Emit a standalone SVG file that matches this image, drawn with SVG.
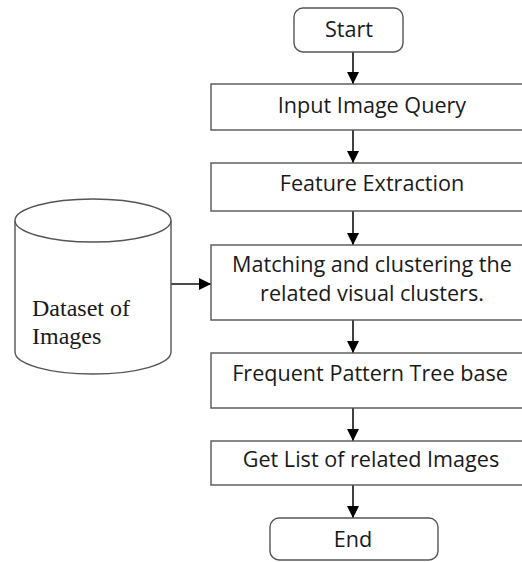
<svg xmlns="http://www.w3.org/2000/svg" width="522" height="562" viewBox="0 0 522 562">
<defs>
<style>
.box{fill:#fff;stroke:#555;stroke-width:1.4}
.t{font-family:"Open Sans",Lato,"Liberation Sans",sans-serif;font-size:21.6px;fill:#1a1a1a;text-anchor:middle}
.s{font-family:"Liberation Serif","Times New Roman",serif;font-size:24px;fill:#1a1a1a}
.ln{stroke:#111;stroke-width:1.6;fill:none}
</style>
<marker id="ah" viewBox="0 0 12 12" refX="12" refY="6" markerWidth="12" markerHeight="12" markerUnits="userSpaceOnUse" orient="auto">
<path d="M0,0 L12,6 L0,12 Z" fill="#000"/>
</marker>
</defs>
<rect width="522" height="562" fill="#fff"/>
<g id="connectors">
<line class="ln" x1="353" y1="52" x2="353" y2="84" marker-end="url(#ah)"/>
<line class="ln" x1="353" y1="130" x2="353" y2="163" marker-end="url(#ah)"/>
<line class="ln" x1="353" y1="211" x2="353" y2="245" marker-end="url(#ah)"/>
<line class="ln" x1="353" y1="320" x2="353" y2="353" marker-end="url(#ah)"/>
<line class="ln" x1="353" y1="408" x2="353" y2="441" marker-end="url(#ah)"/>
<line class="ln" x1="353" y1="485" x2="353" y2="518" marker-end="url(#ah)"/>
<line class="ln" x1="171" y1="284" x2="211" y2="284" marker-end="url(#ah)"/>
</g>
<g id="start">
<rect class="box" x="294" y="8" width="109" height="44" rx="9"/>
<text class="t" x="349" y="37">Start</text>
</g>
<g id="input">
<rect class="box" x="211" y="84" width="330" height="46"/>
<text class="t" x="372" y="113">Input Image Query</text>
</g>
<g id="feature">
<rect class="box" x="211" y="163" width="330" height="48"/>
<text class="t" x="372" y="191">Feature Extraction</text>
</g>
<g id="matching">
<rect class="box" x="211" y="245" width="330" height="75"/>
<text class="t" x="372" y="272">Matching and clustering the</text>
<text class="t" x="372" y="301">related visual clusters.</text>
</g>
<g id="fptree">
<rect class="box" x="211" y="353" width="330" height="55"/>
<text class="t" x="370" y="381">Frequent Pattern Tree base</text>
</g>
<g id="getlist">
<rect class="box" x="211" y="441" width="330" height="44"/>
<text class="t" x="371" y="467">Get List of related Images</text>
</g>
<g id="end">
<rect class="box" x="270" y="518" width="168" height="42" rx="9"/>
<text class="t" x="353" y="547">End</text>
</g>
<g id="dataset">
<path class="box" d="M15,220.5 L15,352 A78,22 0 0 0 171,352 L171,220.5"/>
<ellipse class="box" cx="93" cy="220.5" rx="78" ry="21.5"/>
<text class="s" x="32" y="316">Dataset of</text>
<text class="s" x="32" y="344">Images</text>
</g>
</svg>
